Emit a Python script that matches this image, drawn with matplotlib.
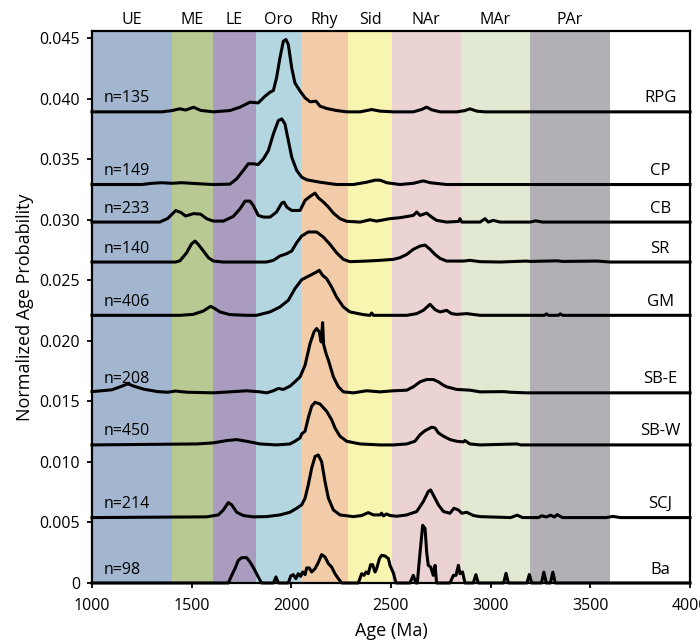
import numpy as np
import matplotlib
matplotlib.use("Agg")
import matplotlib.pyplot as plt
import matplotlib.transforms as mtransforms

plt.rcParams["font.family"] = ["Open Sans", "DejaVu Sans"]

# -----------------------------
# Data: geologic age bands
# -----------------------------
band_names = ["UE", "ME", "LE", "Oro", "Rhy", "Sid", "NAr", "MAr", "PAr"]
band_edges = [1000, 1400, 1605, 1825, 2050, 2285, 2505, 2850, 3195, 3600]
band_colors = ["#a2b6cf", "#b8c994", "#a99cbe", "#b4d6e0", "#f2cba9",
               "#f8f5b1", "#ebd3d4", "#e2e9d3", "#b2b0b4"]

# -----------------------------
# Data: samples (top to bottom)
# heights are in units of 1e-3 above each sample's baseline
# -----------------------------
sample_names = ["RPG", "CP", "CB", "SR", "GM", "SB-E", "SB-W", "SCJ", "Ba"]
sample_n = [135, 149, 233, 140, 406, 208, 450, 214, 98]
baselines = [0.0389, 0.0329, 0.0298, 0.0265, 0.0221, 0.0157, 0.0114, 0.0054, 0.0]

rpg_age = [1000, 1350, 1400, 1440, 1470, 1510, 1545, 1610, 1692, 1743, 1793, 1834,
           1868, 1893, 1910, 1926, 1943, 1960, 1973, 1985, 2002, 2018, 2044, 2069,
           2094, 2124, 2144, 2177, 2227, 2278, 2345, 2403, 2445, 2512, 2612, 2654,
           2679, 2704, 2746, 2830, 2870, 2896, 2930, 2970, 4000]
rpg_h = [0, 0, 0.1, 0.25, 0.15, 0.38, 0.12, 0, 0.11, 0.39, 0.80, 0.74,
         1.29, 1.62, 1.76, 2.81, 4.46, 5.83, 5.97, 5.56, 3.63, 2.39, 1.71, 1.16,
         0.83, 0.88, 0.47, 0.28, 0.11, 0, 0, 0.19, 0.06, 0, 0, 0.2,
         0.39, 0.17, 0, 0, 0.1, 0.25, 0.06, 0, 0]

cp_age = [1000, 1250, 1300, 1350, 1400, 1450, 1500, 1550, 1609, 1692, 1726, 1759,
          1784, 1809, 1834, 1860, 1885, 1910, 1935, 1952, 1968, 1985, 2002, 2027,
          2052, 2077, 2144, 2227, 2311, 2378, 2420, 2445, 2478, 2545, 2612, 2662,
          2696, 2779, 4000]
cp_h = [0, 0, 0.1, 0.15, 0.1, 0.15, 0.1, 0.05, 0, 0.03, 0.47, 1.16,
        1.71, 1.71, 1.65, 2.12, 2.81, 4.18, 5.28, 5.42, 5.01, 3.63, 2.26, 1.16,
        0.61, 0.39, 0.19, 0, 0, 0.19, 0.36, 0.36, 0.15, 0, 0.1, 0.3,
        0.15, 0, 0]

cb_age = [1000, 1340, 1380, 1420, 1445, 1470, 1510, 1545, 1575, 1609, 1659, 1709,
          1743, 1768, 1793, 1809, 1834, 1860, 1893, 1926, 1952, 1963, 1977, 2002,
          2044, 2069, 2094, 2119, 2135, 2161, 2186, 2211, 2244, 2278, 2345, 2395,
          2428, 2495, 2545, 2612, 2629, 2646, 2679, 2704, 2729, 2779, 2838, 2846,
          2855, 2947, 2972, 2988, 3013, 3047, 3200, 3225, 3260, 4000]
cb_h = [0, 0, 0.3, 0.95, 0.8, 0.5, 0.7, 0.65, 0.28, 0.08, 0.08, 0.47,
        1.10, 1.73, 1.73, 1.38, 0.55, 0.41, 0.41, 0.83, 1.57, 1.65, 1.24, 0.96,
        0.96, 1.79, 2.12, 2.39, 2.01, 1.65, 1.24, 0.74, 0.28, 0.06, 0, 0.19,
        0.08, 0.28, 0.36, 0.55, 0.83, 0.55, 0.74, 0.41, 0.14, 0, 0.05, 0.28,
        0, 0, 0.28, 0, 0.14, 0, 0, 0.1, 0, 0]

sr_age = [1000, 1420, 1441, 1475, 1500, 1517, 1533, 1559, 1584, 1609, 1659, 1776,
          1876, 1910, 1943, 1977, 2002, 2027, 2052, 2085, 2127, 2161, 2194, 2227,
          2261, 2294, 2378, 2445, 2512, 2545, 2579, 2612, 2646, 2671, 2696, 2721,
          2746, 2779, 2863, 2896, 2947, 3047, 3178, 3200, 3334, 3360, 3535, 3600, 4000]
sr_h = [0, 0, 0.1, 0.77, 1.51, 1.73, 1.46, 0.91, 0.36, 0.08, 0, 0,
        0, 0.14, 0.50, 0.69, 0.91, 1.60, 2.15, 2.48, 2.48, 2.06, 1.46, 0.77,
        0.22, 0.03, 0.08, 0.14, 0.22, 0.36, 0.63, 1.05, 1.32, 1.40, 1.05, 0.63,
        0.30, 0.08, 0.08, 0.14, 0.03, 0, 0.08, 0.05, 0.1, 0.05, 0.08, 0, 0]

gm_age = [1000, 1441, 1508, 1559, 1595, 1617, 1642, 1692, 1776, 1826, 1893, 1943,
          1985, 2018, 2052, 2094, 2127, 2140, 2157, 2177, 2202, 2227, 2261, 2294,
          2361, 2395, 2403, 2412, 2478, 2579, 2629, 2662, 2696, 2721, 2746, 2779,
          2804, 2830, 2880, 2947, 3270, 3280, 3290, 3340, 3350, 3360, 3500, 4000]
gm_h = [0, 0, 0.08, 0.36, 0.74, 0.55, 0.28, 0.06, 0, 0, 0.28, 0.69,
        1.24, 2.20, 2.94, 3.30, 3.58, 3.72, 3.30, 3.03, 2.34, 1.51, 0.69, 0.28,
        0.06, 0, 0.19, 0, 0, 0, 0.14, 0.41, 0.91, 0.47, 0.28, 0.41,
        0.14, 0.08, 0.14, 0, 0, 0.12, 0, 0, 0.12, 0, 0, 0]

sbe_age = [1000, 1100, 1150, 1180, 1210, 1260, 1330, 1380, 1420, 1445, 1480, 1609,
           1692, 1776, 1843, 1876, 1910, 1935, 1960, 1993, 2018, 2044, 2069, 2094,
           2114, 2127, 2140, 2150, 2157, 2162, 2175, 2186, 2211, 2236, 2261, 2311,
           2378, 2445, 2512, 2579, 2612, 2646, 2679, 2712, 2738, 2763, 2779, 2830,
           2896, 2947, 3066, 3100, 3178, 4000]
sbe_h = [0.1, 0.25, 0.55, 0.75, 0.55, 0.3, 0.1, 0.05, 0.15, 0.1, 0.05, 0,
         0.08, 0.17, 0.08, 0, 0.17, 0.36, 0.28, 0.55, 0.91, 1.32, 2.28, 4.07,
         5.04, 5.31, 5.04, 4.2, 5.8, 4.0, 3.2, 2.70, 1.32, 0.50, 0.08, 0,
         0.17, 0.08, 0.17, 0.22, 0.50, 0.91, 1.10, 1.10, 0.91, 0.63, 0.50, 0.28,
         0.22, 0.08, 0.1, 0.05, 0, 0]

sbw_age = [1000, 1525, 1609, 1676, 1726, 1776, 1843, 1926, 1993, 2018, 2044, 2052,
           2069, 2085, 2102, 2119, 2144, 2177, 2202, 2219, 2244, 2278, 2345, 2445,
           2512, 2579, 2620, 2646, 2671, 2704, 2721, 2738, 2763, 2796, 2830, 2863,
           2871, 2896, 2947, 3133, 3150, 4000]
sbw_h = [0, 0.08, 0.17, 0.36, 0.44, 0.30, 0.08, 0, 0.08, 0.30, 0.58, 0.91,
         1.13, 2.23, 3.19, 3.52, 3.38, 2.78, 2.09, 1.40, 0.72, 0.30, 0.08, 0,
         0, 0.08, 0.30, 0.85, 1.18, 1.46, 1.40, 0.99, 0.72, 0.44, 0.30, 0.25,
         0.36, 0.08, 0, 0.08, 0, 0]

scj_age = [1000, 1575, 1634, 1659, 1684, 1701, 1726, 1759, 1809, 1876, 1943, 1993,
           2027, 2052, 2069, 2085, 2102, 2119, 2135, 2152, 2169, 2186, 2211, 2244,
           2311, 2353, 2386, 2412, 2445, 2453, 2462, 2478, 2495, 2529, 2579, 2629,
           2662, 2687, 2699, 2712, 2738, 2763, 2796, 2816, 2838, 2855, 2880, 2913,
           2947, 3100, 3133, 3160, 3240, 3256, 3280, 3301, 3320, 3334, 3360, 3580,
           3613, 3650, 4000]
scj_h = [0, 0.06, 0.22, 0.63, 1.24, 1.05, 0.44, 0.17, 0.06, 0.08, 0.22, 0.44,
         0.77, 1.05, 1.60, 2.70, 4.07, 5.04, 5.17, 4.62, 2.97, 1.60, 0.63, 0.22,
         0.08, 0.17, 0.41, 0.22, 0.22, 0.36, 0.14, 0.30, 0.17, 0.11, 0.22, 0.50,
         1.32, 2.15, 2.28, 1.87, 1.05, 0.50, 0.36, 0.77, 0.63, 0.36, 0.44, 0.17,
         0.08, 0, 0.2, 0, 0, 0.15, 0.05, 0.2, 0.05, 0.25, 0, 0,
         0.1, 0, 0]

ba_age = [1000, 1684, 1701, 1717, 1734, 1751, 1776, 1793, 1813, 1834, 1851, 1910,
          1923, 1935, 1985, 1997, 2010, 2023, 2035, 2047, 2057, 2069, 2077, 2090,
          2102, 2119, 2135, 2152, 2169, 2186, 2202, 2219, 2236, 2253, 2336, 2353,
          2365, 2375, 2386, 2398, 2408, 2420, 2428, 2442, 2453, 2470, 2487, 2495,
          2512, 2525, 2595, 2612, 2625, 2632, 2646, 2659, 2671, 2679, 2687, 2699,
          2712, 2721, 2729, 2796, 2813, 2826, 2838, 2846, 2859, 2871, 2913, 2926,
          2938, 3065, 3077, 3089, 3182, 3194, 3206, 3255, 3267, 3279, 3300, 3312,
          3324, 4000]
ba_h = [0, 0, 0.63, 1.18, 1.87, 2.09, 2.09, 1.73, 1.18, 0.50, 0, 0,
        0.50, 0, 0, 0.58, 0.69, 0.36, 0.77, 0.55, 0.91, 0.69, 1.24, 1.24,
        0.91, 1.18, 1.68, 2.34, 2.15, 1.60, 1.32, 0.77, 0.36, 0, 0, 0.77,
        0.63, 0.91, 0.77, 1.51, 1.51, 0.91, 1.18, 2.01, 2.28, 2.23, 2.01, 1.46,
        0.83, 0, 0, 0.63, 0, 0, 2.56, 4.76, 4.49, 2.56, 1.46, 1.32,
        0.63, 1.46, 0, 0, 0.63, 0.63, 1.46, 0.77, 0.91, 0, 0, 0.69,
        0, 0, 0.8, 0, 0, 0.7, 0, 0, 0.9, 0, 0, 0.9,
        0, 0]

ages = [rpg_age, cp_age, cb_age, sr_age, gm_age, sbe_age, sbw_age, scj_age, ba_age]
heights = [rpg_h, cp_h, cb_h, sr_h, gm_h, sbe_h, sbw_h, scj_h, ba_h]

y_ticks = [0, 0.005, 0.010, 0.015, 0.020, 0.025, 0.030, 0.035, 0.040, 0.045]
y_tick_labels = ["0", "0.005", "0.010", "0.015", "0.020", "0.025",
                 "0.030", "0.035", "0.040", "0.045"]
x_ticks = [1000, 1500, 2000, 2500, 3000, 3500, 4000]

# -----------------------------
# Plot
# -----------------------------
fig = plt.figure(figsize=(7, 6.41), dpi=100)
ax = fig.add_axes([0.1314, 0.0905, 0.8543, 0.8616])

for i in range(len(band_names)):
    ax.axvspan(band_edges[i], band_edges[i + 1], color=band_colors[i], lw=0, zorder=0)

top = mtransforms.blended_transform_factory(ax.transData, ax.transAxes)
for i, name in enumerate(band_names):
    mid = (band_edges[i] + band_edges[i + 1]) / 2
    ax.text(mid, 1.019, name, transform=top, ha="center", va="center", fontsize=11.5)

for name, n, base, a, h in zip(sample_names, sample_n, baselines, ages, heights):
    y = base + np.array(h) * 1e-3
    ax.plot(a, y, color="black", lw=2.2, solid_joinstyle="round", zorder=3, clip_on=False)
    ax.text(1060, base + 0.00045, "n=%d" % n, ha="left", va="bottom", fontsize=11.5, zorder=4)
    ax.text(3850, base + 0.00045, name, ha="center", va="bottom", fontsize=12, zorder=4)

ax.set_xlim(1000, 4000)
ax.set_ylim(0, 0.0456)
ax.set_xticks(x_ticks)
ax.set_yticks(y_ticks)
ax.set_yticklabels(y_tick_labels)
ax.tick_params(direction="out", length=3.5, width=1.3, labelsize=11.5, pad=5)
ax.tick_params(axis="x", pad=7)
for s in ax.spines.values():
    s.set_linewidth(1.6)
    s.set_zorder(5)

ax.set_xlabel("Age (Ma)", fontsize=13, labelpad=6)
ax.set_ylabel("Normalized Age Probability", fontsize=13, labelpad=4)

plt.savefig("out.png", dpi=100)
